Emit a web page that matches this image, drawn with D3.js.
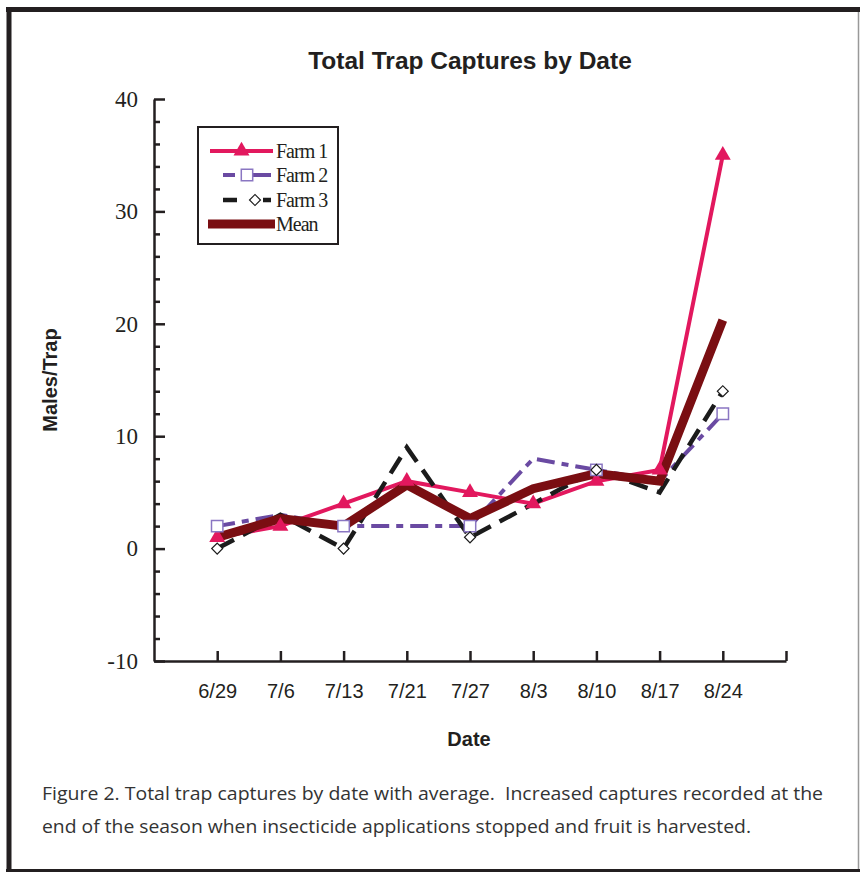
<!DOCTYPE html>
<html>
<head>
<meta charset="utf-8">
<script src="https://cdn.jsdelivr.net/npm/d3@7"></script>
<style>
  body { margin: 0; background: #fff; }
</style>
</head>
<body>
<svg id="mychart" width="860" height="872"></svg>
<script>
const width = 860
const height = 872

const dates = ["6/29", "7/6", "7/13", "7/21", "7/27", "8/3", "8/10", "8/17", "8/24"]
const farm1 = [1, 2, 4, 6, 5, 4, 6, 7, 35]
const farm2 = [2, 3, 2, 2, 2, 8, 7, 6, 12]
const farm3 = [0, 3, 0, 9, 1, 4, 7, 5, 14]
const mean = [1, 2.67, 2, 5.67, 2.67, 5.33, 6.67, 6, 20.33]
const yTicks = [-10, 0, 10, 20, 30, 40]
const yMinorTicks = [-8, -6, -4, -2, 2, 4, 6, 8, 12, 14, 16, 18, 22, 24, 26, 28, 32, 34, 36, 38]

// step: markers drawn on every point (1) or every other point (2)
const series = [
  {name: "Farm 1", values: farm1, color: "#e2185e", width: 4, dash: null, marker: "triangle", step: 1},
  {name: "Farm 2", values: farm2, color: "#6a4aa2", width: 4, dash: "18,7,7,7", marker: "square", step: 2},
  {name: "Farm 3", values: farm3, color: "#1b1b1b", width: 4.5, dash: "19,10", marker: "diamond", step: 2},
  {name: "Mean", values: mean, color: "#7a0e12", width: 9, dash: null, marker: "x", step: 1}
]

const x = d3.scaleLinear().domain([0, 10]).range([154, 786])
const y = d3.scaleLinear().domain([-10, 40]).range([661, 99])

const svg = d3.select("#mychart").attr("viewBox", [0, 0, width, height])

// page frame
svg.append("rect").attr("x", 0).attr("y", 0).attr("width", width).attr("height", height).attr("fill", "#fff")
svg.append("line").attr("x1", 6).attr("x2", 860).attr("y1", 9.5).attr("y2", 9.5).attr("stroke", "#231f20").attr("stroke-width", 5)
svg.append("line").attr("x1", 9).attr("x2", 9).attr("y1", 7).attr("y2", 872).attr("stroke", "#231f20").attr("stroke-width", 5)
svg.append("line").attr("x1", 6).attr("x2", 860).attr("y1", 870.5).attr("y2", 870.5).attr("stroke", "#231f20").attr("stroke-width", 3)
svg.append("line").attr("x1", 858.5).attr("x2", 858.5).attr("y1", 12).attr("y2", 869).attr("stroke", "#999").attr("stroke-width", 1.5)

// title
svg.append("text")
    .attr("x", 470).attr("y", 69)
    .attr("text-anchor", "middle")
    .attr("font-family", "Liberation Sans, Arial, sans-serif")
    .attr("font-weight", "bold")
    .attr("font-size", 24.5)
    .attr("fill", "#231f20")
    .text("Total Trap Captures by Date")

// axes
const yAxis = g => g
    .attr("transform", `translate(${x(0)},0)`)
    .call(d3.axisLeft(y).tickValues(yTicks).tickSize(-11).tickSizeOuter(0).tickPadding(16)
        .tickFormat(d => String(d)))
    .call(g => g.select(".domain").attr("stroke-width", 2.5))
    .call(g => g.selectAll(".tick line").attr("stroke-width", 2.5))
    .call(g => g.selectAll(".tick text")
        .attr("font-family", "Liberation Serif, Times New Roman, serif")
        .attr("font-size", 23))

const yMinor = g => g
    .attr("transform", `translate(${x(0)},0)`)
    .call(d3.axisLeft(y).tickValues(yMinorTicks).tickSize(-6).tickFormat(""))
    .call(g => g.select(".domain").remove())
    .call(g => g.selectAll(".tick line").attr("stroke-width", 2.5))

const xAxis = g => g
    .attr("transform", `translate(0,${y(-10)})`)
    .call(d3.axisBottom(x).tickValues(d3.range(1, 11)).tickSize(-10).tickSizeOuter(0).tickPadding(23)
        .tickFormat(i => dates[i - 1] || ""))
    .call(g => g.select(".domain").attr("stroke-width", 2.5))
    .call(g => g.selectAll(".tick line").attr("stroke-width", 2.5))
    .call(g => g.selectAll(".tick text")
        .attr("font-family", "Liberation Sans, Arial, sans-serif")
        .attr("font-size", 20))

svg.append("g").call(yMinor)
svg.append("g").call(yAxis)
svg.append("g").call(xAxis)
svg.selectAll(".domain, .tick line").attr("stroke", "#231f20")
svg.selectAll(".tick text").attr("fill", "#231f20")

svg.append("text")
    .attr("x", 469).attr("y", 746)
    .attr("text-anchor", "middle")
    .attr("font-family", "Liberation Sans, Arial, sans-serif")
    .attr("font-weight", "bold")
    .attr("font-size", 20)
    .attr("fill", "#231f20")
    .text("Date")

svg.append("text")
    .attr("transform", "translate(57,380) rotate(-90)")
    .attr("text-anchor", "middle")
    .attr("font-family", "Liberation Sans, Arial, sans-serif")
    .attr("font-weight", "bold")
    .attr("font-size", 20)
    .attr("fill", "#231f20")
    .text("Males/Trap")

// lines
const line = d3.line().x((d, i) => x(i + 1)).y(d => y(d))

svg.append("g")
    .selectAll("path")
    .data(series)
    .join("path")
    .attr("d", d => line(d.values))
    .attr("fill", "none")
    .attr("stroke", d => d.color)
    .attr("stroke-width", d => d.width)
    .attr("stroke-dasharray", d => d.dash)
    .attr("stroke-linejoin", "miter")

// markers
function marker(sel, s) {
  if (s.marker === "triangle") {
    sel.attr("d", d3.symbol(d3.symbolTriangle, 110)())
      .attr("fill", s.color).attr("stroke", "none")
  } else if (s.marker === "square") {
    sel.attr("d", d3.symbol(d3.symbolSquare, 130)())
      .attr("fill", "#fff").attr("stroke", "#8a76c2").attr("stroke-width", 1.5)
  } else if (s.marker === "diamond") {
    sel.attr("d", d3.symbol(d3.symbolSquare, 60)())
      .attr("fill", "#fff").attr("stroke", "#1b1b1b").attr("stroke-width", 1.2)
      .attr("transform", function () { return this.getAttribute("transform") + " rotate(45)" })
  } else {
    sel.attr("d", d3.symbol(d3.symbolTimes, 70)())
      .attr("fill", "#b0403f").attr("stroke", "none")
  }
}

series.forEach(s => {
  const pts = s.values.map((v, i) => ({v, i})).filter(d => d.i % s.step === 0)
  svg.append("g")
    .selectAll("path")
    .data(pts)
    .join("path")
    .attr("transform", d => `translate(${x(d.i + 1)},${y(d.v)})`)
    .call(marker, s)
})

// legend
const legend = svg.append("g")
legend.append("rect")
    .attr("x", 198).attr("y", 127).attr("width", 140).attr("height", 117)
    .attr("fill", "#fff").attr("stroke", "#231f20").attr("stroke-width", 2)

const legendRows = [151, 175, 200, 224]
const legendStart = [210, 223, 223, 208]
const legendEnd = [273, 271, 271, 275]

series.forEach((s, i) => {
  const yy = legendRows[i]
  legend.append("line")
    .attr("x1", legendStart[i]).attr("x2", legendEnd[i])
    .attr("y1", yy).attr("y2", yy)
    .attr("stroke", s.color)
    .attr("stroke-width", s.width)
    .attr("stroke-dasharray", i === 1 ? "12,6,40" : i === 2 ? "14,26,40" : null)
  legend.append("path")
    .attr("transform", `translate(${(legendStart[i] + legendEnd[i]) / 2 + (i === 2 ? 8 : 0)},${yy})`)
    .call(marker, s)
  legend.append("text")
    .attr("x", 276).attr("y", yy + 7)
    .attr("font-family", "Liberation Serif, Times New Roman, serif")
    .attr("font-size", 20)
    .attr("letter-spacing", -1)
    .attr("fill", "#231f20")
    .text(s.name)
})

// caption
const caption = [
  {text: "Figure 2. Total trap captures by date with average.  Increased captures recorded at the", len: 781, y: 800},
  {text: "end of the season when insecticide applications stopped and fruit is harvested.", len: 709, y: 833}
]
svg.append("g")
    .selectAll("text")
    .data(caption)
    .join("text")
    .attr("x", 42)
    .attr("y", d => d.y)
    .attr("font-family", "Open Sans, sans-serif")
    .attr("font-size", 18)
    .attr("fill", "#333")
    .attr("textLength", d => d.len)
    .attr("lengthAdjust", "spacingAndGlyphs")
    .attr("xml:space", "preserve")
    .text(d => d.text)
</script>
</body>
</html>
